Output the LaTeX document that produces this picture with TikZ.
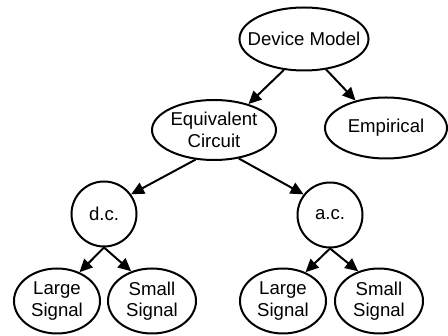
\documentclass[tikz,border=0pt]{standalone}
\usepackage{fontspec}
\setmainfont{Liberation Sans}
\usetikzlibrary{shapes.geometric,arrows.meta}
\begin{document}
\begin{tikzpicture}[x=1pt,y=-1pt,
  every node/.style={font=\fontsize{18.6}{21.5}\selectfont},
  ell/.style={ellipse,draw,line width=2pt,inner sep=0pt},
  txt/.style={label={[align=center]center:#1}},
  arr/.style={line width=2pt,-{Triangle[length=13pt,width=12pt]}}]
\useasboundingbox (0,0) rectangle (448,336);
\node[ell,minimum width=129pt,minimum height=63pt,txt={Device Model}] (dm) at (304,39) {};
\node[ell,minimum width=122pt,minimum height=61pt,txt={Empirical}] (emp) at (386,128) {};
\node[ell,minimum width=124pt,minimum height=60pt,txt={Equivalent\\Circuit}] (eq) at (214,130) {};
\node[ell,minimum width=65pt,minimum height=65pt,txt={d.c.}] (dc) at (104,214) {};
\node[ell,minimum width=65pt,minimum height=65pt,txt={a.c.}] (ac) at (330,215) {};
\node[ell,minimum width=86pt,minimum height=65pt,txt={Large\\Signal}] (dl) at (57,301) {};
\node[ell,minimum width=88pt,minimum height=65pt,txt={Small\\Signal}] (ds) at (152,301) {};
\node[ell,minimum width=86pt,minimum height=65pt,txt={Large\\Signal}] (al) at (283,301) {};
\node[ell,minimum width=88pt,minimum height=65pt,txt={Small\\Signal}] (as) at (379,301) {};
\draw[arr] (dm.237) -- (eq.37);
\draw[arr] (dm.306) -- (emp.138);
\draw[arr] (eq.238) -- (dc.36);
\draw[arr] (eq.311) -- (ac.142);
\draw[arr] (dc.south) -- (dl.52);
\draw[arr] (dc.south) -- (ds.125);
\draw[arr] (ac.south) -- (al.52);
\draw[arr] (ac.south) -- (as.125);
\end{tikzpicture}
\end{document}
